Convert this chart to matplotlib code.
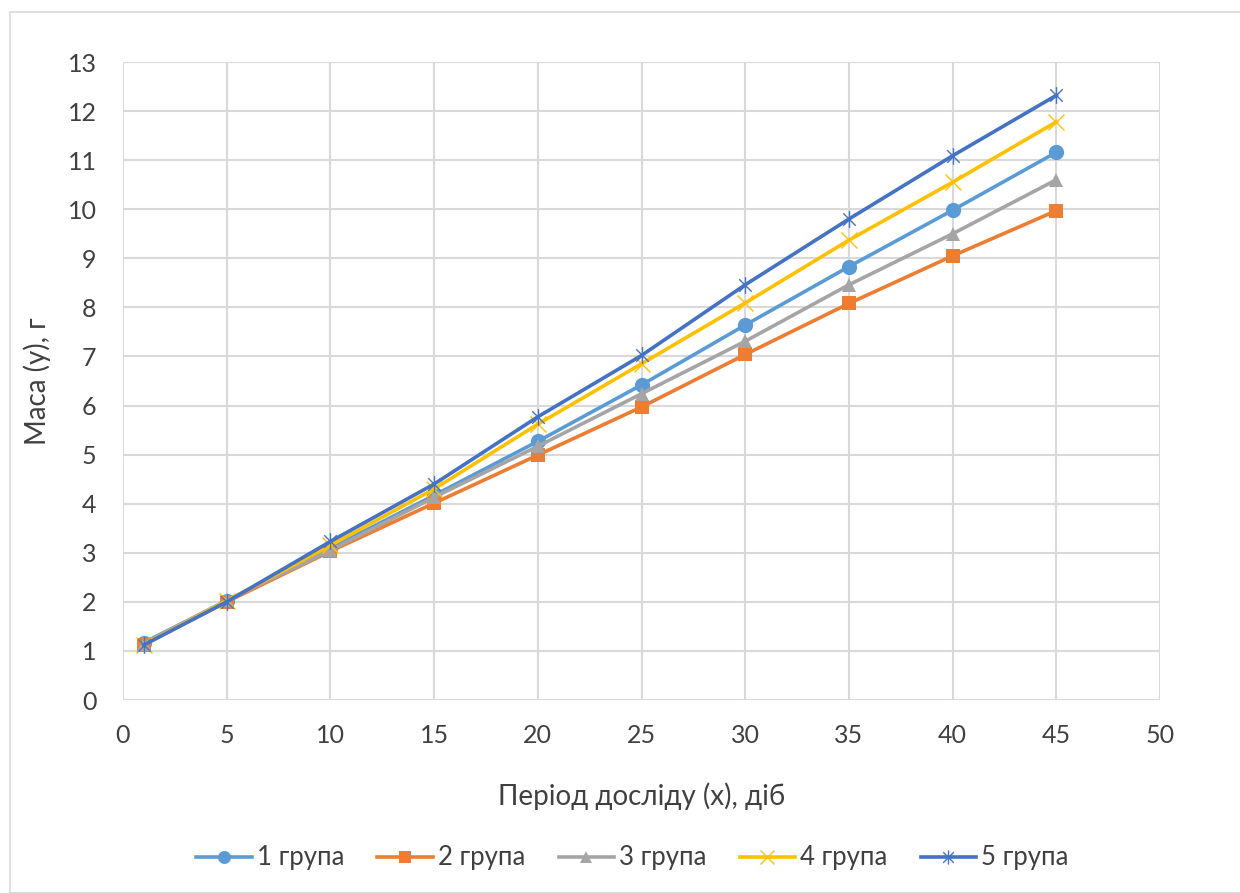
import matplotlib.pyplot as plt
from matplotlib.path import Path
from matplotlib.patches import Rectangle

plt.rcParams['font.family'] = ['Lato', 'DejaVu Sans']

# period of the experiment, days
days = [1, 5, 10, 15, 20, 25, 30, 35, 40, 45]

# mass per group, g
group1 = [1.17, 2.02, 3.09, 4.17, 5.27, 6.42, 7.64, 8.83, 9.98, 11.16]
group2 = [1.13, 2.00, 3.03, 4.01, 4.99, 5.97, 7.04, 8.08, 9.05, 9.97]
group3 = [1.15, 2.03, 3.05, 4.13, 5.17, 6.24, 7.31, 8.46, 9.50, 10.60]
group4 = [1.13, 2.02, 3.15, 4.30, 5.62, 6.85, 8.09, 9.37, 10.55, 11.78]
group5 = [1.12, 2.00, 3.23, 4.40, 5.77, 7.02, 8.46, 9.80, 11.09, 12.32]

labels = ["1 група", "2 група", "3 група", "4 група", "5 група"]
colors = ["#5b9bd5", "#ed7d31", "#a5a5a5", "#ffc000", "#4472c4"]

# excel style star: x plus a vertical bar
star = Path([(0, -1), (0, 1), (-0.75, -0.75), (0.75, 0.75), (-0.75, 0.75), (0.75, -0.75)],
            [Path.MOVETO, Path.LINETO, Path.MOVETO, Path.LINETO, Path.MOVETO, Path.LINETO])

fig = plt.figure(figsize=(12.4, 8.93), dpi=100)
fig.patches.append(Rectangle((10 / 1240, 0), 1.0, (893 - 12) / 893, transform=fig.transFigure,
                             fill=False, edgecolor="#d9d9d9", linewidth=1.2))
ax = fig.add_axes([123 / 1240, (893 - 700) / 893, 1037 / 1240, 638 / 893])

series = [group1, group2, group3, group4, group5]
markers = ["o", "s", "^", "x", star]
sizes = [11, 10, 10, 12, 12]
for vals, lab, col, mk, ms in zip(series, labels, colors, markers, sizes):
    ax.plot(days, vals, color=col, linewidth=2.6, marker=mk, markersize=ms,
            markeredgewidth=1.0 if mk == "x" or mk is star else 0,
            markerfacecolor=col, markeredgecolor=col, label=lab, zorder=3)

ax.set_xlim(0, 50)
ax.set_ylim(0, 13)
ax.set_xticks(range(0, 51, 5))
ax.set_yticks(range(0, 14))
ax.grid(True, color="#d9d9d9", linewidth=1.5)
ax.set_axisbelow(True)
for s in ax.spines.values():
    s.set_visible(False)
ax.tick_params(length=0, labelsize=18, labelcolor="#404040")
ax.tick_params(axis="x", pad=17)
ax.tick_params(axis="y", pad=19)

ax.set_xlabel("Період досліду (x), діб", fontsize=20, color="#404040", labelpad=26)
ax.set_ylabel("Маса (y), г", fontsize=20, color="#404040", labelpad=12)

fig.legend(loc="center", bbox_to_anchor=(0.51, (893 - 858) / 893), ncol=5, frameon=False,
           fontsize=18.5, handlelength=2.15, columnspacing=1.3, handletextpad=0.2,
           labelcolor="#404040", markerscale=0.85)

plt.savefig("out.png", dpi=100)
